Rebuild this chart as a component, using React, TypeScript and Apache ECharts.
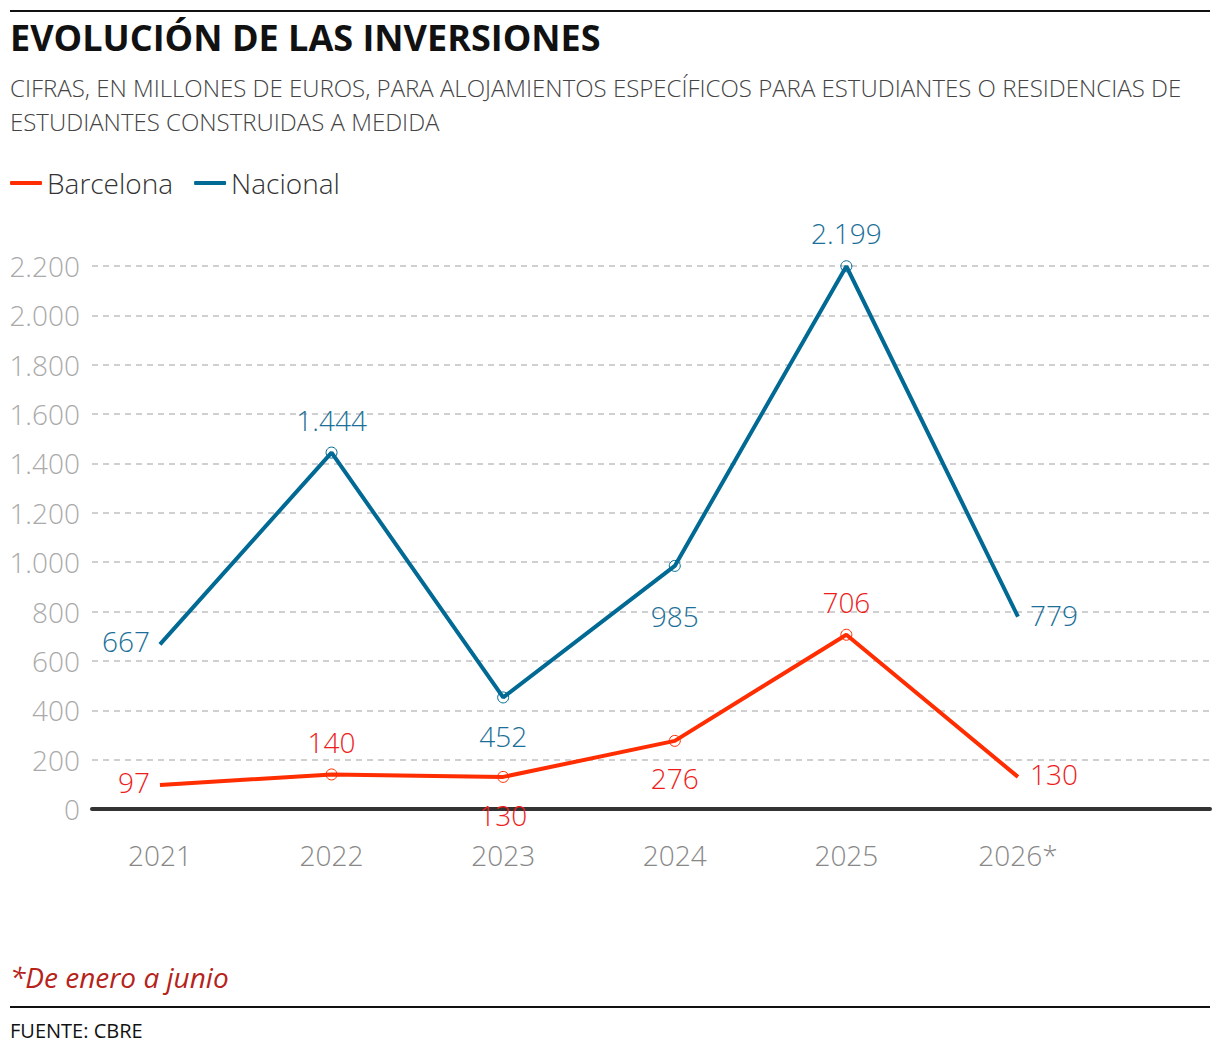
import React, { useEffect, useRef } from "react";
import * as echarts from "echarts";

const categories = ["2021", "2022", "2023", "2024", "2025", "2026*"];
const barcelona = [97, 140, 130, 276, 706, 130];
const nacional = [667, 1444, 452, 985, 2199, 779];
const yTicks = [0, 200, 400, 600, 800, 1000, 1200, 1400, 1600, 1800, 2000, 2200];

const FONT = "'Open Sans', 'Noto Sans', sans-serif";
const RED_LINE = "#ff2d00";
const RED_LABEL = "#ee1c1c";
const BLUE_LINE = "#006994";
const BLUE_LABEL = "#1c6f98";

const fmt = (v: number) => String(v).replace(/\B(?=(\d{3})+(?!\d))/g, ".");

type LabelPos = { position: string; distance: number; offset?: number[] };
const barcelonaLabels: LabelPos[] = [
  { position: "left", distance: 10, offset: [0, -3] },
  { position: "top", distance: 12.5 },
  { position: "bottom", distance: 18 },
  { position: "bottom", distance: 17.5 },
  { position: "top", distance: 12.5 },
  { position: "right", distance: 12, offset: [0, -3] },
];
const nacionalLabels: LabelPos[] = [
  { position: "left", distance: 10, offset: [0, -3] },
  { position: "top", distance: 13 },
  { position: "bottom", distance: 18.5 },
  { position: "bottom", distance: 30 },
  { position: "top", distance: 13.5 },
  { position: "right", distance: 12, offset: [0, -2] },
];

function buildData(values: number[], labels: LabelPos[], color: string) {
  return values.map((v, i) => {
    const isEnd = i === 0 || i === values.length - 1;
    return {
      value: [i, v],
      symbolSize: isEnd ? 0 : 11,
      label: {
        show: true,
        position: labels[i].position,
        distance: labels[i].distance,
        offset: labels[i].offset,
        formatter: () => fmt(v),
        color,
        fontFamily: FONT,
        fontSize: 28,
        fontWeight: 300,
      },
    };
  });
}

export default function App() {
  const ref = useRef<HTMLDivElement>(null);
  useEffect(() => {
    if (!ref.current) return;
    const chart = echarts.init(ref.current, null, { renderer: "svg" });
    const option: any = {
      animation: false,
      backgroundColor: "#fff",
      textStyle: { fontFamily: FONT },
      legend: {
        left: 10,
        top: 169,
        padding: 0,
        icon: "roundRect",
        itemWidth: 32,
        itemHeight: 4,
        itemGap: 21,
        textStyle: { fontFamily: FONT, fontSize: 28, fontWeight: 300, color: "#333" },
        data: [
          { name: "Barcelona", itemStyle: { color: RED_LINE, borderWidth: 0 } },
          { name: "Nacional", itemStyle: { color: BLUE_LINE, borderWidth: 0 } },
        ],
      },
      grid: { left: 92, right: 10, top: 266, bottom: 247, containLabel: false },
      xAxis: {
        type: "value",
        min: -0.396,
        max: 6.119,
        axisLine: { show: true, onZero: true, lineStyle: { color: "#333", width: 4 } },
        axisTick: { show: false },
        splitLine: { show: false },
        axisLabel: {
          customValues: categories.map((_, i) => i),
          formatter: (v: number) => categories[Math.round(v)] ?? "",
          color: "#888",
          fontFamily: FONT,
          fontSize: 28,
          fontWeight: 300,
          margin: 32,
        },
      },
      yAxis: {
        type: "value",
        min: yTicks[0],
        max: yTicks[yTicks.length - 1],
        interval: 200,
        axisLine: { show: false },
        axisTick: { show: false },
        splitLine: { show: true, lineStyle: { color: "#d0d0d0", width: 2, type: [6, 5] } },
        axisLabel: {
          formatter: (v: number) => fmt(v),
          color: "#aaa",
          fontFamily: FONT,
          fontSize: 28,
          fontWeight: 300,
          margin: 12,
        },
      },
      series: [
        {
          name: "Barcelona",
          type: "line",
          color: RED_LINE,
          symbol: "circle",
          itemStyle: { color: "rgba(0,0,0,0)", borderColor: RED_LINE, borderWidth: 1 },
          lineStyle: { color: RED_LINE, width: 4 },
          data: buildData(barcelona, barcelonaLabels, RED_LABEL),
          z: 3,
        },
        {
          name: "Nacional",
          type: "line",
          color: BLUE_LINE,
          symbol: "circle",
          itemStyle: { color: "rgba(0,0,0,0)", borderColor: BLUE_LINE, borderWidth: 1 },
          lineStyle: { color: BLUE_LINE, width: 4 },
          data: buildData(nacional, nacionalLabels, BLUE_LABEL),
          z: 3,
        },
      ],
      graphic: [
        { type: "line", shape: { x1: 10, y1: 11, x2: 1210, y2: 11 }, style: { stroke: "#111", lineWidth: 2 } },
        {
          type: "text",
          x: 10,
          y: 37,
          style: {
            text: "EVOLUCIÓN DE LAS INVERSIONES",
            font: `bold 36px ${FONT}`,
            fill: "#111",
            verticalAlign: "middle",
          },
        },
        {
          type: "text",
          x: 10,
          y: 87,
          style: {
            text: "CIFRAS, EN MILLONES DE EUROS, PARA ALOJAMIENTOS ESPECÍFICOS PARA ESTUDIANTES O RESIDENCIAS DE",
            font: `300 24px ${FONT}`,
            fill: "#444",
            verticalAlign: "middle",
          },
        },
        {
          type: "text",
          x: 10,
          y: 121,
          style: {
            text: "ESTUDIANTES CONSTRUIDAS A MEDIDA",
            font: `300 24px ${FONT}`,
            fill: "#444",
            verticalAlign: "middle",
          },
        },
        {
          type: "text",
          x: 10,
          y: 977,
          style: {
            text: "*De enero a junio",
            font: `italic 28px ${FONT}`,
            fill: "#b5231b",
            verticalAlign: "middle",
          },
        },
        { type: "line", shape: { x1: 10, y1: 1007, x2: 1210, y2: 1007 }, style: { stroke: "#111", lineWidth: 2 } },
        {
          type: "text",
          x: 10,
          y: 1030,
          style: {
            text: "FUENTE: CBRE",
            font: `20px ${FONT}`,
            fill: "#111",
            verticalAlign: "middle",
          },
        },
      ],
    };
    chart.setOption(option);
    return () => chart.dispose();
  }, []);
  return (
    <div
      ref={ref}
      style={{ position: "absolute", left: 0, top: 0, width: 1220, height: 1056 }}
    />
  );
}
